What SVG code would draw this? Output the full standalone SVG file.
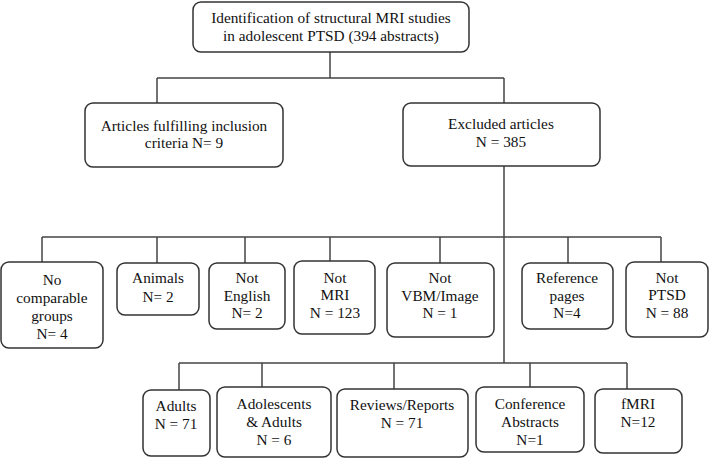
<svg xmlns="http://www.w3.org/2000/svg" width="709" height="458" viewBox="0 0 709 458">
<style>
.box{fill:#fff;stroke:#333;stroke-width:1.5}
.t{font-family:"Liberation Serif","Times New Roman",serif;font-size:15.3px;fill:#111;text-anchor:middle}
.c{fill:none;stroke:#444;stroke-width:1.5}
</style>
<rect width="709" height="458" fill="#fff"/>
<g id="connectors">
<path class="c" d="M330 52V78M157 78H504M157 78V103M504 78V103"/>
<path class="c" d="M504 166V363M42 237H661M42 237V262M157 237V263M245 237V263M330 237V261M440 237V263M568 237V263M661 237V262"/>
<path class="c" d="M179 363H627M179 363V390M262 363V387M394 363V389M530 363V387M627 363V389"/>
</g>
<g id="n-identification"><rect class="box" x="193" y="2" width="276" height="50" rx="8"/><text class="t" x="331" y="23">Identification of structural MRI studies</text><text class="t" x="331" y="41">in adolescent PTSD (394 abstracts)</text></g>
<g id="n-included"><rect class="box" x="85" y="103" width="198" height="64" rx="8"/><text class="t" x="184" y="131">Articles fulfilling inclusion</text><text class="t" x="184" y="148">criteria N= 9</text></g>
<g id="n-excluded"><rect class="box" x="403" y="103" width="197" height="63" rx="8"/><text class="t" x="501" y="129">Excluded articles</text><text class="t" x="501" y="147">N = 385</text></g>
<g id="n-nocomp"><rect class="box" x="1" y="262" width="102" height="86" rx="8"/><text class="t" x="52" y="285">No</text><text class="t" x="52" y="303">comparable</text><text class="t" x="52" y="321">groups</text><text class="t" x="52" y="339">N= 4</text></g>
<g id="n-animals"><rect class="box" x="117" y="263" width="82" height="52" rx="8"/><text class="t" x="158" y="283">Animals</text><text class="t" x="158" y="302">N= 2</text></g>
<g id="n-notenglish"><rect class="box" x="209" y="263" width="76" height="66" rx="8"/><text class="t" x="247" y="283">Not</text><text class="t" x="247" y="301">English</text><text class="t" x="247" y="318">N= 2</text></g>
<g id="n-notmri"><rect class="box" x="294" y="261" width="81" height="73" rx="8"/><text class="t" x="335" y="283">Not</text><text class="t" x="335" y="300">MRI</text><text class="t" x="335" y="318">N = 123</text></g>
<g id="n-notvbm"><rect class="box" x="387" y="263" width="107" height="74" rx="8"/><text class="t" x="440" y="283">Not</text><text class="t" x="440" y="301">VBM/Image</text><text class="t" x="440" y="318">N = 1</text></g>
<g id="n-reference"><rect class="box" x="522" y="263" width="91" height="66" rx="8"/><text class="t" x="567" y="283">Reference</text><text class="t" x="567" y="301">pages</text><text class="t" x="567" y="318">N=4</text></g>
<g id="n-notptsd"><rect class="box" x="626" y="262" width="82" height="75" rx="8"/><text class="t" x="667" y="283">Not</text><text class="t" x="667" y="300">PTSD</text><text class="t" x="667" y="318">N = 88</text></g>
<g id="n-adults"><rect class="box" x="143" y="390" width="67" height="66" rx="8"/><text class="t" x="176" y="411">Adults</text><text class="t" x="176" y="429">N = 71</text></g>
<g id="n-adoladults"><rect class="box" x="217" y="387" width="114" height="70" rx="8"/><text class="t" x="274" y="409">Adolescents</text><text class="t" x="274" y="427">&amp; Adults</text><text class="t" x="274" y="445">N = 6</text></g>
<g id="n-reviews"><rect class="box" x="337" y="389" width="131" height="68" rx="8"/><text class="t" x="402" y="410">Reviews/Reports</text><text class="t" x="402" y="428">N = 71</text></g>
<g id="n-conference"><rect class="box" x="476" y="387" width="108" height="65" rx="8"/><text class="t" x="530" y="409">Conference</text><text class="t" x="530" y="427">Abstracts</text><text class="t" x="530" y="445">N=1</text></g>
<g id="n-fmri"><rect class="box" x="595" y="389" width="87" height="64" rx="8"/><text class="t" x="638" y="409">fMRI</text><text class="t" x="638" y="427">N=12</text></g>
</svg>
